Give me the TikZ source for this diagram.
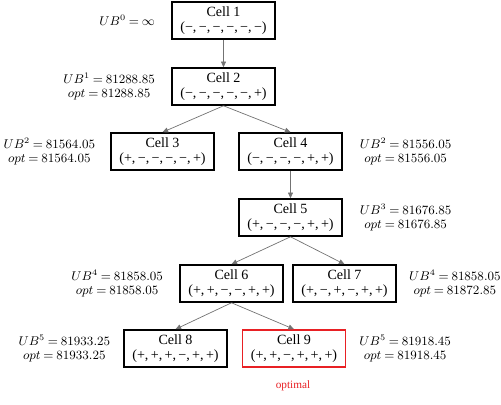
\documentclass[tikz,border=0pt]{standalone}
\usepackage{fontspec}
\setmainfont{Liberation Serif}
\usetikzlibrary{positioning,arrows.meta}
\definecolor{optred}{RGB}{232,32,36}

\begin{document}
\begin{tikzpicture}[x=0.025cm,y=-0.025cm,
  cellbox/.style={draw=black,line width=1.1pt,minimum width=2.575cm,
    minimum height=0.925cm,inner sep=1pt,align=center,
    font=\fontsize{10}{10.5}\selectfont},
  bound/.style={align=center,inner sep=0pt,font=\fontsize{9}{10}\selectfont},
  link/.style={-{Triangle[length=4pt,width=3.5pt]},draw=black!55,line width=0.5pt}]
  \useasboundingbox (0,0) rectangle (501,404);
  \thickmuskip=4mu
  % Cells of the search tree
  \node[cellbox] (c1) at (223.5,20.5) {Cell 1\\(−,\,−,\,−,\,−,\,−,\,−)};
  \node[cellbox] (c2) at (223.5,86.5) {Cell 2\\(−,\,−,\,−,\,−,\,−,\,+)};
  \node[cellbox] (c3) at (162.5,151.5) {Cell 3\\(+,\,−,\,−,\,−,\,−,\,+)};
  \node[cellbox] (c4) at (290.5,151.5) {Cell 4\\(−,\,−,\,−,\,−,\,+,\,+)};
  \node[cellbox] (c5) at (290.5,217.5) {Cell 5\\(+,\,−,\,−,\,−,\,+,\,+)};
  \node[cellbox] (c6) at (231.5,283.5) {Cell 6\\(+,\,+,\,−,\,−,\,+,\,+)};
  \node[cellbox] (c7) at (344.5,283.5) {Cell 7\\(+,\,−,\,+,\,−,\,+,\,+)};
  \node[cellbox] (c8) at (175.5,348.5) {Cell 8\\(+,\,+,\,+,\,−,\,+,\,+)};
  \node[cellbox,draw=optred] (c9) at (294,348.5) {Cell 9\\(+,\,+,\,−,\,+,\,+,\,+)};
  \node[text=optred,font=\fontsize{8}{9}\selectfont,inner sep=0pt] (best) at (293,386) {optimal};
  % Bounds beside each cell
  \node[bound,left=0.4cm of c1] (b1) {$UB^{0}=\infty$};
  \node[bound,left=0.4cm of c2] (b2) {$UB^{1}=81288.85$\\$opt=81288.85$};
  \node[bound,left=0.37cm of c3] (b3) {$UB^{2}=81564.05$\\$opt=81564.05$};
  \node[bound,right=0.42cm of c4] (b4) {$UB^{2}=81556.05$\\$opt=81556.05$};
  \node[bound,right=0.42cm of c5] (b5) {$UB^{3}=81676.85$\\$opt=81676.85$};
  \node[bound,left=0.4cm of c6] (b6) {$UB^{4}=81858.05$\\$opt=81858.05$};
  \node[bound,right=0.3cm of c7] (b7) {$UB^{4}=81858.05$\\$opt=81872.85$};
  \node[bound,left=0.32cm of c8] (b8) {$UB^{5}=81933.25$\\$opt=81933.25$};
  \node[bound,right=0.32cm of c9] (b9) {$UB^{5}=81918.45$\\$opt=81918.45$};
  % Branching
  \foreach \a/\b in {c1/c2,c2/c3,c2/c4,c4/c5,c5/c6,c5/c7,c6/c8,c6/c9} {
    \draw[link] (\a.south) -- (\b.north);
  }
\end{tikzpicture}
\end{document}
